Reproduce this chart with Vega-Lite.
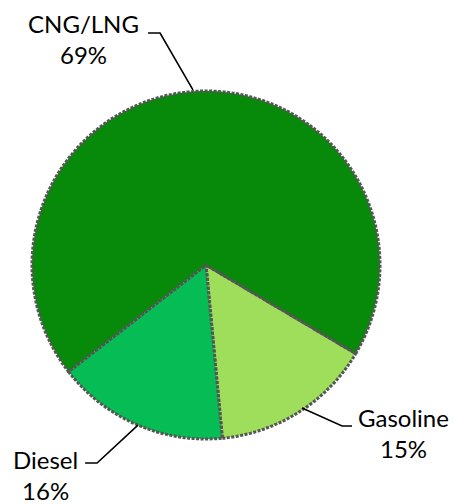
{
  "$schema": "https://vega.github.io/schema/vega-lite/v6.json",
  "width": 454,
  "height": 504,
  "autosize": {"type": "none"},
  "padding": 0,
  "background": "white",
  "config": {"view": {"stroke": null}},
  "datasets": {
    "slices": [
      {"fuel": "Gasoline", "share": 15, "order": 1},
      {"fuel": "Diesel", "share": 16, "order": 2},
      {"fuel": "CNG/LNG", "share": 69, "order": 3}
    ],
    "labels": [
      {"fuel": "CNG/LNG", "pct": "69%", "lx": -0.704, "ly": 1.333},
      {"fuel": "Gasoline", "pct": "15%", "lx": 1.135, "ly": -0.931},
      {"fuel": "Diesel", "pct": "16%", "lx": -0.922, "ly": -1.172}
    ],
    "leaders": [
      {"fuel": "CNG/LNG", "step": 1, "px": -0.333, "py": 1.333},
      {"fuel": "CNG/LNG", "step": 2, "px": -0.264, "py": 1.333},
      {"fuel": "CNG/LNG", "step": 3, "px": -0.075, "py": 1.006},
      {"fuel": "Gasoline", "step": 1, "px": 0.552, "py": -0.822},
      {"fuel": "Gasoline", "step": 2, "px": 0.782, "py": -0.925},
      {"fuel": "Gasoline", "step": 3, "px": 0.839, "py": -0.925},
      {"fuel": "Diesel", "step": 1, "px": -0.695, "py": -1.138},
      {"fuel": "Diesel", "step": 2, "px": -0.626, "py": -1.138},
      {"fuel": "Diesel", "step": 3, "px": -0.391, "py": -0.92}
    ]
  },
  "layer": [
    {
      "data": {"name": "slices"},
      "mark": {"type": "arc", "outerRadius": 174, "stroke": "#555555", "strokeWidth": 3, "strokeDash": [3, 1.5], "strokeJoin": "round"},
      "encoding": {
        "x": {"datum": 0, "type": "quantitative", "scale": {"domain": [-1.1839, 1.4253], "nice": false, "zero": false}, "axis": null},
        "y": {"datum": 0, "type": "quantitative", "scale": {"domain": [-1.3736, 1.523], "nice": false, "zero": false}, "axis": null},
        "theta": {"field": "share", "type": "quantitative", "stack": true, "scale": {"range": [2.105, 8.388]}},
        "order": {"field": "order", "type": "quantitative"},
        "color": {
          "field": "fuel",
          "type": "nominal",
          "scale": {"domain": ["CNG/LNG", "Gasoline", "Diesel"], "range": ["#078a09", "#9ede5b", "#06bc55"]},
          "legend": null
        }
      }
    },
    {
      "data": {"name": "leaders"},
      "mark": {"type": "line", "color": "black", "strokeWidth": 1.6},
      "encoding": {
        "x": {"field": "px", "type": "quantitative"},
        "y": {"field": "py", "type": "quantitative"},
        "detail": {"field": "fuel"},
        "order": {"field": "step", "type": "quantitative"}
      }
    },
    {
      "data": {"name": "labels"},
      "mark": {"type": "text", "font": "Lato", "fontSize": 24, "align": "center", "baseline": "alphabetic", "color": "black"},
      "encoding": {
        "x": {"field": "lx", "type": "quantitative"},
        "y": {"field": "ly", "type": "quantitative"},
        "text": {"field": "fuel"}
      }
    },
    {
      "data": {"name": "labels"},
      "mark": {"type": "text", "font": "Lato", "fontSize": 24, "align": "center", "baseline": "alphabetic", "dy": 31, "color": "black"},
      "encoding": {
        "x": {"field": "lx", "type": "quantitative"},
        "y": {"field": "ly", "type": "quantitative"},
        "text": {"field": "pct"}
      }
    }
  ]
}
